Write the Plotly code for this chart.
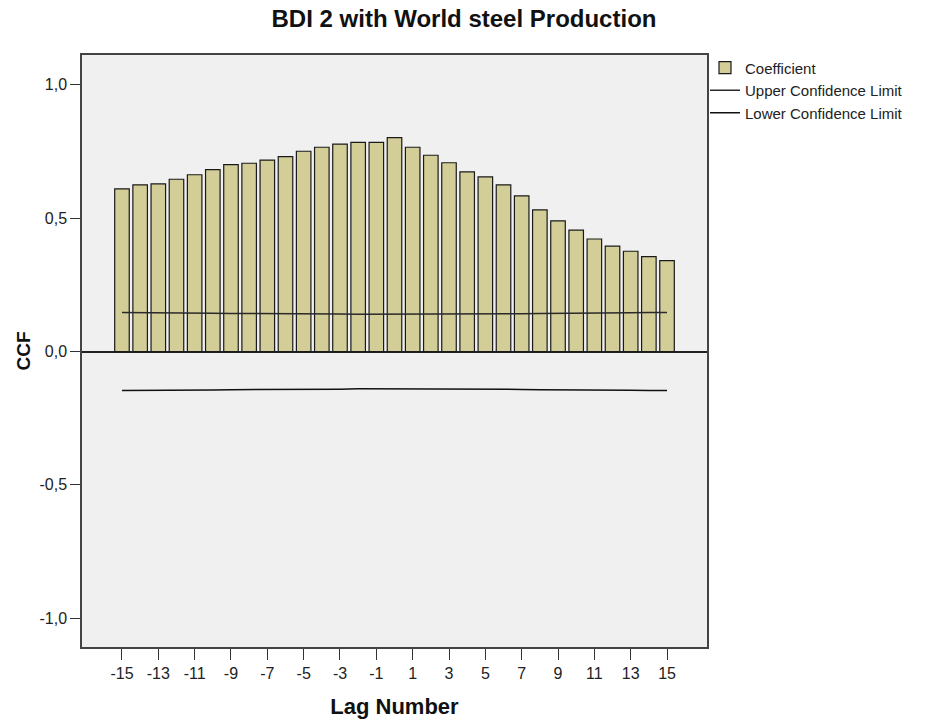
import plotly.graph_objects as go

# Cross-correlation of BDI 2 with world steel production
lags = list(range(-15, 16))
coefficient = [0.610, 0.625, 0.629, 0.646, 0.663, 0.682, 0.701, 0.706, 0.718, 0.731,
               0.751, 0.766, 0.778, 0.784, 0.784, 0.802, 0.766, 0.736, 0.708, 0.674,
               0.655, 0.625, 0.584, 0.531, 0.490, 0.455, 0.422, 0.395, 0.376, 0.356,
               0.341]
upper_limit = [0.146, 0.146, 0.145, 0.145, 0.144, 0.144, 0.143, 0.143, 0.142, 0.142,
               0.141, 0.141, 0.141, 0.140, 0.140, 0.140, 0.140, 0.140, 0.141, 0.141,
               0.141, 0.142, 0.142, 0.143, 0.143, 0.144, 0.144, 0.145, 0.145, 0.146,
               0.146]
lower_limit = [-v for v in upper_limit]

x_tick_vals = list(range(-15, 16, 2))
x_tick_text = [str(v) for v in x_tick_vals]
y_tick_vals = [-1.0, -0.5, 0.0, 0.5, 1.0]
y_tick_text = ["-1,0", "-0,5", "0,0", "0,5", "1,0"]

FONT = "Liberation Sans, Arial, sans-serif"

fig = go.Figure()
fig.add_trace(go.Bar(
    x=lags, y=coefficient, name="Coefficient", width=0.8,
    marker=dict(color="#d3ce97", line=dict(color="#1a1a1a", width=1.2)),
))
fig.add_trace(go.Scatter(
    x=lags, y=upper_limit, mode="lines", name="Upper Confidence Limit",
    line=dict(color="#2a2a2a", width=1.5),
))
fig.add_trace(go.Scatter(
    x=lags, y=lower_limit, mode="lines", name="Lower Confidence Limit",
    line=dict(color="#111111", width=1.5),
))

fig.update_layout(
    width=928, height=724,
    margin=dict(l=82, r=221, t=55, b=77),
    paper_bgcolor="white", plot_bgcolor="#f0f0f0",
    font=dict(family=FONT, size=16, color="#222222"),
    title=dict(text="<b>BDI 2 with World steel Production</b>",
               x=0.5, xref="container", xanchor="center",
               y=1, yref="container", yanchor="top", pad=dict(t=10),
               font=dict(family=FONT, size=24, color="#111111")),
    bargap=0.2,
    showlegend=True,
    legend=dict(x=0.9968, xanchor="left", y=1.006, yanchor="top",
                bgcolor="rgba(0,0,0,0)", itemwidth=30,
                font=dict(family=FONT, size=15, color="#222222"),
                tracegroupgap=0),
)

fig.update_xaxes(
    range=[-17.2, 17.2], tickmode="array", tickvals=x_tick_vals, ticktext=x_tick_text,
    ticks="outside", ticklen=11, tickcolor="#333333", tickwidth=1,
    tickfont=dict(family=FONT, size=16, color="#222222"),
    showgrid=False, zeroline=False, automargin=False,
    showline=True, linecolor="#444444", linewidth=1.5, mirror=True,
    title=dict(text="<b>Lag Number</b>", font=dict(family=FONT, size=22, color="#111111"),
               standoff=18),
)
fig.update_yaxes(
    range=[-1.108, 1.112], tickmode="array", tickvals=y_tick_vals, ticktext=y_tick_text,
    ticks="outside", ticklen=10, tickcolor="#333333", tickwidth=1,
    tickfont=dict(family=FONT, size=16, color="#222222"),
    showgrid=False, zeroline=True, zerolinecolor="#222222", zerolinewidth=1.5,
    automargin=False,
    showline=True, linecolor="#444444", linewidth=1.5, mirror=True,
    title=dict(text="<b>CCF</b>", font=dict(family=FONT, size=19, color="#111111"),
               standoff=4),
)

fig.write_html("out.html")
